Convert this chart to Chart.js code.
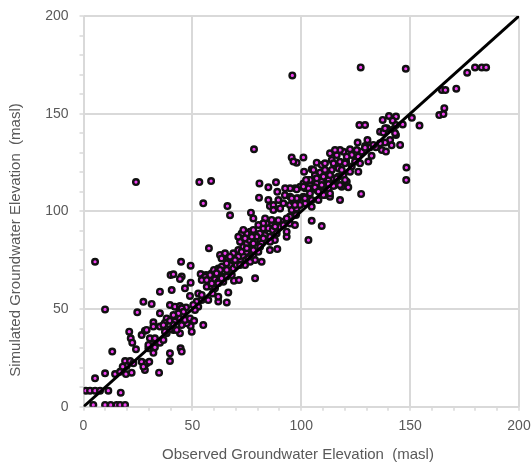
<!DOCTYPE html>
<html>
<head>
<meta charset="utf-8">
<script src="https://cdn.jsdelivr.net/npm/chart.js@4.4.1/dist/chart.umd.min.js"></script>
<style>
  body { margin: 0; background: #fff; }
  #grafico { display: block; }
</style>
</head>
<body>
<canvas id="grafico" width="531" height="468"></canvas>
<script>
// [observed, simulated] in masl
const lowRange = [
  [1.1,8.2],[3.0,8.2],[5.3,8.2],[7.6,8.2],[11.4,8.2],[17.1,7.2],
  [4.5,0.9],[9.9,0.9],[12.5,0.9],[15.2,0.9],[16.8,0.9],[19.1,0.9],
  [5.3,14.5],[9.9,17.1],[14.5,16.7],[16.8,17.9],[19.5,16.7],[22.1,17.4],[34.7,17.4],
  [19.1,23.4],[21.4,23.4],[19.8,20.8],[18.0,20.5],[22.9,22.2],
  [26.7,23.0],[29.0,22.2],[28.2,18.8],[30.2,23.0],[27.5,20.5],
  [13.2,28.2],[24.1,29.4],[29.8,29.9],[32.1,27.6],[39.7,27.3],[39.7,23.4],[44.6,29.9],[45.1,28.2],
  [21.0,38.4],[21.7,35.0],[22.4,32.8],[26.7,36.7],[28.2,38.9],[30.5,35.0],[31.3,32.1],[33.9,33.3],[35.1,32.8],
  [29.8,31.6],[32.8,30.4],[29.0,39.3],[32.8,35.0],[36.7,34.2],[38.2,37.6],[41.3,39.3],[44.3,37.6],[49.7,38.4],[49.2,41.3],[55.0,41.8],
  [27.5,53.7],[31.3,52.6],[24.7,48.3],[39.7,52.0],[42.0,51.2],[44.3,51.5],[47.1,50.8],[35.1,47.8],[32.1,43.2],
  [38.2,45.2],[37.4,43.0],[39.7,44.0],[42.0,43.5],[44.3,45.2],[45.9,46.9],[35.1,41.0],[39.7,39.6],[37.4,38.4],
  [42.8,39.3],[44.3,49.5],[47.4,42.7],[52.0,53.8],[54.3,54.6],[52.7,51.2],[50.4,52.1],[51.2,49.5],[45.1,50.4],
  [45.9,48.6],[43.6,47.8],[41.3,46.9],[32.1,41.0],[36.7,41.8],[41.3,41.8],[45.1,41.8],[46.6,44.4],[48.9,45.2],[50.8,44.0],
  [44.8,74.2],[49.2,72.2],[40.0,67.4],[41.3,67.8],[45.1,66.6],[44.3,65.4],[49.2,63.5],[46.6,60.6],[40.5,59.7],
  [35.1,58.9],[48.9,56.7],[57.3,54.6],[61.9,53.8],[65.8,53.4]
];

const midRange = [
  [52.7,58.0],[54.3,57.2],[59.3,58.0],[61.9,56.3],[66.5,58.5],
  [53.8,67.9],[55.0,65.7],[56.3,67.4],[58.9,68.3],[59.9,70.0],[61.9,70.8],[63.5,71.7],[62.7,77.7],[65.0,78.5],
  [66.5,76.0],[67.3,72.5],[65.8,70.0],[68.8,70.8],[70.3,72.5],
  [58.1,64.9],[60.4,65.2],[61.9,64.0],[64.2,64.0],[63.5,66.6],[65.8,66.6],[68.1,67.4],[56.6,61.4],[58.9,61.4],
  [60.4,60.6],[61.9,63.2],[69.1,64.5],[71.4,64.8],
  [71.9,75.4],[73.4,77.1],[74.6,75.1],[75.7,78.5],[71.1,80.2],[73.4,81.9],[71.9,84.5],[75.0,83.6],[57.6,81.1],
  [76.9,99.3],[78.0,96.4],[80.6,107.0],
  [84.9,105.8],[85.6,102.7],[87.2,103.2],[89.0,110.0],[92.5,108.3],[91.8,104.1],[94.8,103.2],[96.4,104.9],
  [95.6,100.7],[97.9,101.5],[97.6,98.1],[94.8,97.3],[93.3,96.4],[91.0,94.7],[89.5,95.5],[86.4,93.8],[84.1,93.8],
  [82.6,91.3],[84.9,91.3],[86.9,90.4],[90.2,92.1],[91.8,93.0],[94.8,93.8],[97.1,93.0],[88.7,88.7],[85.6,87.0],
  [87.9,85.3],[83.3,87.9],[81.0,88.7],[79.5,87.0],[78.8,84.5],[81.8,83.6],[85.6,80.2],[89.0,80.7],[93.3,87.0],
  [76.5,89.6],[74.9,88.7],[72.6,88.7],[71.1,87.0],[76.2,85.3],[77.2,81.0],[74.9,79.3],[72.6,79.3],[68.8,78.5],
  [71.1,76.8],[75.7,75.9],[78.0,77.6],[80.3,79.3],[81.8,74.2],[78.8,75.1],[76.5,74.2],[74.2,72.5],[71.9,72.5],
  [69.6,75.1],[67.3,76.8],[65.7,73.4],[63.4,75.9],[62.7,70.0],[61.1,68.3],[58.1,67.4],[55.8,66.5],[54.3,64.8],
  [56.6,64.8],[58.9,63.1],[63.4,65.7],[78.8,65.7],
  [87.2,100.7],[90.3,101.5],[98.7,106.7],[94.9,107.5],[89.5,105.8],[83.4,96.4],[86.4,95.6],[93.3,89.6],
  [88.0,92.2],[82.6,93.9],[80.3,93.0],[78.0,90.5],[73.4,90.5],[74.2,86.2],[77.3,87.0],[82.6,86.2],[85.7,84.5],
  [81.1,81.9],[78.0,80.2],[75.0,81.1],[78.0,83.6],[104.8,95.2],[109.4,92.5],[103.3,85.3],
  [88.4,114.9],[84.9,112.3],[80.8,114.3]
];

const highRange = [
  [95.6,127.6],[97.9,124.9],[101.0,127.6],[96.4,125.5],
  [107.1,124.9],[109.4,123.7],[110.9,124.6],[114.0,126.3],[116.3,128.8],[119.4,130.5],[113.2,129.7],[117.8,125.4],
  [120.6,125.4],[117.1,122.0],[114.0,121.2],[111.7,120.3],[108.6,119.8],[106.3,118.6],[104.8,121.5],[101.3,120.3],
  [103.3,116.0],[101.0,114.3],[104.1,113.5],[107.1,114.3],[109.4,115.2],[112.5,116.0],[114.8,116.9],[117.1,117.8],
  [119.4,118.6],[120.9,115.2],[118.6,112.6],[115.5,113.5],[112.5,111.8],[110.2,110.1],[107.1,110.9],[104.8,111.8],
  [101.8,111.8],[99.5,112.6],[97.2,111.8],[94.9,111.8],[92.6,111.8],
  [101.0,107.5],[101.8,104.1],[104.8,102.4],[107.9,105.8],[110.9,108.4],[113.2,107.5],[117.8,105.8],
  [140.3,148.8],[143.5,148.5],[137.4,146.8],[142.0,146.4],[143.5,144.2],[142.3,142.0],[139.3,142.5],[136.2,140.8],
  [137.7,140.3],[143.5,139.1],[140.8,136.5],[138.5,135.2],[136.2,134.8],[134.3,132.8],[137.0,131.4],[138.9,130.6],
  [145.4,134.0],[130.4,136.5],[129.3,133.5],[125.9,135.2],[126.7,144.2],[129.3,144.2],[131.6,132.8],[127.8,130.6],
  [125.5,131.4],[122.4,131.8],[123.2,128.9],[117.8,131.4],[115.5,131.4],[120.9,128.0],[126.2,128.0],[130.8,125.5],
  [127.0,124.6],[124.7,125.5],[123.2,122.9],[120.1,124.6],[114.8,124.6],[105.6,121.2],[110.9,121.2],[118.6,121.2],
  [122.4,120.3],[126.2,120.3],[113.2,118.6],[110.2,117.8],[107.1,116.9],[104.0,116.1],[102.2,116.1],[116.3,116.9],
  [120.1,116.1],[117.8,113.5],[121.6,112.3],[114.8,113.0],[112.5,114.0],[109.4,113.5],[106.3,112.3],[103.3,111.8],
  [101.0,112.7],[97.9,111.3],[104.0,109.2],[107.9,110.1],[110.2,108.4],[113.2,109.2],[104.8,105.8],[101.7,106.7],
  [97.9,106.7],[95.6,106.7],[99.4,103.3],[97.1,103.3],[127.5,108.9],
  [133.1,134.0],[129.3,132.6],[141.5,133.8],[132.3,128.4],[138.5,142.5],[143.1,140.0],
  [146.6,144.5],[150.8,147.9],[154.3,143.9],[148.3,122.4],[148.2,116.0],
  [163.4,149.3],[165.3,149.8],[165.7,152.8],
  [164.6,162.1],[166.2,162.1],[171.2,162.8],[176.2,171.0],[179.8,173.7],[182.9,173.7],[184.9,173.7]
];

const outliers = [
  [5.3,74.2],[9.9,49.8],[24.1,115.0],[53.2,115.0],[58.6,115.5],[55.0,104.1],[66.1,102.7],[67.3,98.0],
  [78.3,131.8],[95.9,169.6],[127.3,173.7],[148.0,173.0]
];

// 1:1 reference line
const lineaX = [0, 200];
const lineaY = [0, 200];

const tituloX = 'Observed Groundwater Elevation  (masl)';
const tituloY = 'Simulated Groundwater Elevation  (masl)';

const puntos = [...lowRange, ...midRange, ...highRange, ...outliers].map(p => ({ x: p[0], y: p[1] }));
const linea = lineaX.map((x, i) => ({ x, y: lineaY[i] }));

Chart.defaults.font.family = "'Liberation Sans', Arial, sans-serif";
Chart.defaults.font.size = 14;
Chart.defaults.color = '#595959';

const gris = '#d9d9d9';

function ejeComun(fit) {
  return {
    min: 0,
    max: 200,
    border: { display: false },
    grid: {
      color: c => (c.tick && c.tick.value % 50 === 0) ? gris : 'rgba(0,0,0,0)',
      lineWidth: 2,
      drawTicks: true,
      tickLength: 4,
      tickColor: gris,
      tickWidth: 1.5
    },
    ticks: {
      stepSize: 10,
      autoSkip: false,
      maxRotation: 0,
      callback: v => (v % 50 === 0 ? v : '')
    },
    afterFit: s => {
      fit(s);
      // sin relleno extra por etiquetas: lo fija layout.padding
      s.paddingLeft = 0; s.paddingRight = 0; s.paddingTop = 0; s.paddingBottom = 0;
    }
  };
}

const titulos = {
  id: 'titulos',
  afterDraw(chart) {
    const ctx = chart.ctx;
    ctx.save();
    ctx.fillStyle = '#595959';
    ctx.font = "15px 'Liberation Sans', Arial, sans-serif";
    ctx.textAlign = 'center';
    ctx.textBaseline = 'middle';
    ctx.fillText(tituloX, 298, 455);
    ctx.translate(16, 240);
    ctx.rotate(-Math.PI / 2);
    ctx.fillText(tituloY, 0, 0);
    ctx.restore();
  }
};

const x = ejeComun(s => { s.height = 61.3; });
x.ticks.padding = 7;
const y = ejeComun(s => { s.width = 83.5; });
y.ticks.padding = 11;

new Chart(document.getElementById('grafico'), {
  type: 'scatter',
  data: {
    datasets: [
      {
        label: '1:1',
        data: linea,
        showLine: true,
        borderColor: '#000',
        borderWidth: 3,
        pointRadius: 0,
        order: 0
      },
      {
        label: 'Observed vs Simulated',
        data: puntos,
        backgroundColor: '#f040f0',
        borderColor: '#111',
        borderWidth: 2.4,
        pointRadius: 2.8,
        order: 1
      }
    ]
  },
  options: {
    responsive: false,
    animation: false,
    layout: { padding: { left: 0, right: 12, top: 16, bottom: 0 } },
    plugins: {
      legend: { display: false },
      tooltip: { enabled: false }
    },
    scales: { x, y }
  },
  plugins: [titulos]
});
</script>
</body>
</html>
